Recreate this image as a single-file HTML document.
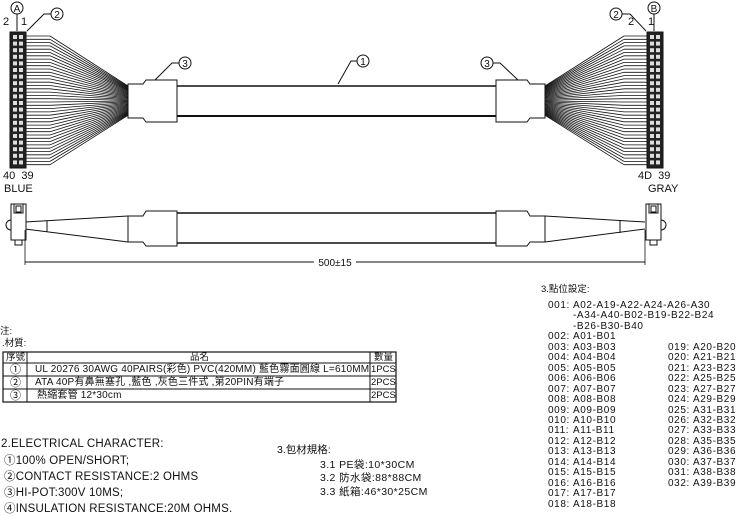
<!DOCTYPE html>
<html><head><meta charset="utf-8"><style>
body{margin:0;background:#fff;width:747px;height:512px;overflow:hidden;position:relative;font-family:"Liberation Sans","Noto Sans CJK TC",sans-serif;color:#111}
.t{position:absolute;white-space:nowrap;font-size:11px;line-height:1}
.s{font-size:9.5px}
.e{letter-spacing:0.2px;font-size:11.5px}
.r{font-size:10px;letter-spacing:0.2px}
</style></head><body>
<svg width="747" height="512" style="position:absolute;left:0;top:0" id="sv">
<g stroke="#111" fill="none" stroke-width="1">
<line x1="177" y1="86" x2="496" y2="86" stroke-width="1.5"/>
<line x1="177" y1="116" x2="496" y2="116" stroke-width="2"/>
<path d="M128 84 H143 L146 80 H177 V122 H146 L143 118 H128 Z" fill="#fff"/>
<path d="M545 84 H530 L527 80 H496 V122 H527 L530 118 H545 Z" fill="#fff"/>
<g id="fans" stroke-width="0.8"></g>
<rect x="10" y="32" width="16" height="136" fill="#222"/>
<rect x="647" y="32" width="16" height="136" fill="#222"/>
<g id="pins" fill="#ddd" stroke="none"></g>
<circle cx="17" cy="8" r="6"/><text x="17" y="12" font-size="10" text-anchor="middle" fill="#111" stroke="none">A</text>
<line x1="17" y1="14" x2="17" y2="31"/>
<circle cx="57" cy="14" r="6"/><text x="57" y="18" font-size="10" text-anchor="middle" fill="#111" stroke="none">2</text>
<path d="M51 14 H44 L27 31"/>
<circle cx="185" cy="63" r="6"/><text x="185" y="67" font-size="10" text-anchor="middle" fill="#111" stroke="none">3</text>
<path d="M179 63 H172 L155 80"/>
<circle cx="363" cy="61" r="6"/><text x="363" y="65" font-size="10" text-anchor="middle" fill="#111" stroke="none">1</text>
<path d="M357 61 H351 L338 84"/>
<circle cx="487" cy="63" r="6"/><text x="487" y="67" font-size="10" text-anchor="middle" fill="#111" stroke="none">3</text>
<path d="M493 63 H500 L518 80"/>
<circle cx="654" cy="8" r="6"/><text x="654" y="12" font-size="10" text-anchor="middle" fill="#111" stroke="none">B</text>
<line x1="654" y1="14" x2="654" y2="31"/>
<circle cx="616" cy="14" r="6"/><text x="616" y="18" font-size="10" text-anchor="middle" fill="#111" stroke="none">2</text>
<path d="M622 14 H630 L646 31"/>
<line x1="177" y1="213" x2="496" y2="213" stroke-width="1.5"/>
<line x1="177" y1="243" x2="496" y2="243" stroke-width="1.5"/>
<path d="M128 216 H143 L146 211 H177 V246 H146 L143 242 H128 Z" fill="#fff"/>
<path d="M545 216 H530 L527 211 H496 V246 H527 L530 242 H545 Z" fill="#fff"/>
<line x1="25" y1="222" x2="128" y2="216"/><line x1="25" y1="229" x2="128" y2="242"/>
<line x1="47" y1="221" x2="47" y2="232"/>
<line x1="645" y1="222" x2="545" y2="216"/><line x1="645" y1="229" x2="545" y2="242"/>
<line x1="620" y1="220" x2="620" y2="233"/>
<rect x="11" y="204" width="15" height="36" fill="#fff"/>
<rect x="14" y="204" width="9" height="9" fill="#fff"/><rect x="16" y="206" width="5" height="6"/>
<path d="M11 220 A5 5 0 0 0 11 230"/><rect x="15" y="240" width="7" height="5"/>
<rect x="646" y="204" width="15" height="36" fill="#fff"/>
<rect x="649" y="204" width="9" height="9" fill="#fff"/><rect x="651" y="206" width="5" height="6"/>
<path d="M661 220 A5 5 0 0 1 661 230"/><rect x="650" y="240" width="7" height="5"/>
<line x1="25" y1="230" x2="25" y2="265" stroke-width="0.8"/>
<line x1="645" y1="230" x2="645" y2="265" stroke-width="0.8"/>
<line x1="25" y1="262" x2="314" y2="262"/><line x1="356" y1="262" x2="645" y2="262"/>
<text x="335" y="266" font-size="10" text-anchor="middle" fill="#111" stroke="none">500±15</text>
<rect x="3" y="352" width="393" height="50" stroke-width="1.2"/>
<line x1="3" y1="363" x2="396" y2="363"/><line x1="3" y1="376" x2="396" y2="376"/><line x1="3" y1="389" x2="396" y2="389"/>
<line x1="27" y1="352" x2="27" y2="402"/><line x1="370" y1="352" x2="370" y2="402"/>
</g>
</svg>
<div class="t" style="left:3px;top:17px">2</div><div class="t" style="left:21px;top:17px">1</div>
<div class="t" style="left:3px;top:171px">40&nbsp;&nbsp;39</div><div class="t" style="left:4px;top:184px">BLUE</div>
<div class="t" style="left:648px;top:17px">1</div><div class="t" style="left:628px;top:17px">2</div>
<div class="t" style="left:638px;top:171px">4D&nbsp;&nbsp;39</div><div class="t" style="left:648px;top:184px">GRAY</div>

<div class="t s" style="left:0;top:327px">注:</div>
<div class="t s" style="left:2px;top:339px">.材質:</div>
<div class="t s" style="left:6px;top:353px">序號</div>
<div class="t s" style="left:190px;top:353px">品名</div>
<div class="t s" style="left:374px;top:353px">數量</div>
<div class="t" style="left:10px;top:365px">①</div><div class="t" style="left:10px;top:378px">②</div><div class="t" style="left:10px;top:391px">③</div>
<div class="t r" style="left:35px;top:365px">UL 20276 30AWG 40PAIRS(彩色) PVC(420MM) 藍色霧面圓線 L=610MM</div>
<div class="t r" style="left:35px;top:378px">ATA 40P有鼻無塞孔 ,藍色 ,灰色三件式 ,第20PIN有端子</div>
<div class="t r" style="left:37px;top:391px">熱縮套管 12*30cm</div>
<div class="t s" style="left:371px;top:365px">1PCS</div><div class="t s" style="left:371px;top:378px">2PCS</div><div class="t s" style="left:371px;top:391px">2PCS</div>

<div class="t e" style="left:1px;top:439px">2.ELECTRICAL CHARACTER:</div>
<div class="t e" style="left:4px;top:456px">①100% OPEN/SHORT;</div>
<div class="t e" style="left:4px;top:472px">②CONTACT RESISTANCE:2 OHMS</div>
<div class="t e" style="left:4px;top:488px">③HI-POT:300V 10MS;</div>
<div class="t e" style="left:4px;top:504px">④INSULATION RESISTANCE:20M OHMS.</div>

<div class="t" style="left:277px;top:445px;font-size:10.5px">3.包材規格:</div>
<div class="t" style="left:320px;top:460px;font-size:10.5px;letter-spacing:0.4px">3.1 PE袋:10*30CM</div>
<div class="t" style="left:320px;top:473px;font-size:10.5px;letter-spacing:0.4px">3.2 防水袋:88*88CM</div>
<div class="t" style="left:320px;top:487px;font-size:10.5px;letter-spacing:0.4px">3.3 紙箱:46*30*25CM</div>

<div class="t s" style="left:541px;top:285px">3.點位設定:</div>
<div id="lst"></div>
<script>
var NS="http://www.w3.org/2000/svg",f=document.getElementById("fans"),p=document.getElementById("pins");
function L(a,b,c,d){var l=document.createElementNS(NS,"line");l.setAttribute("x1",a);l.setAttribute("y1",b);l.setAttribute("x2",c);l.setAttribute("y2",d);f.appendChild(l);}
for(var i=0;i<40;i++){var y=36+i*3.3,ty=86+i*0.75;
L(26,y,50,y);L(50,y,128,ty);L(647,y,624,y);L(624,y,545,ty);}
for(var i=0;i<20;i++){for(var k=0;k<2;k++){[12,649].forEach(function(x){var r=document.createElementNS(NS,"rect");r.setAttribute("x",x+k*6+1);r.setAttribute("y",35+i*6.6);r.setAttribute("width",4);r.setAttribute("height",4);p.appendChild(r);});}}
var A=["001:|A02-A19-A22-A24-A26-A30","|-A34-A40-B02-B19-B22-B24","|-B26-B30-B40","002:|A01-B01"];
var B=["019:|A20-B20","020:|A21-B21","021:|A23-B23","022:|A25-B25","023:|A27-B27","024:|A29-B29","025:|A31-B31","026:|A32-B32","027:|A33-B33","028:|A35-B35","029:|A36-B36","030:|A37-B37","031:|A38-B38","032:|A39-B39"];
for(var n=3;n<=18;n++){var s=("00"+n).slice(-3);A.push(s+":|A"+s.slice(1)+"-B"+s.slice(1));}
var st="font-size:10px;letter-spacing:0.6px;";
var h="";A.forEach(function(t,i){var q=t.split("|"),y=301+i*10.45;h+='<div class="t" style="'+st+'left:548px;top:'+y+'px">'+q[0]+'</div><div class="t" style="'+st+'left:573px;top:'+y+'px">'+q[1]+'</div>';});
B.forEach(function(t,i){var q=t.split("|"),y=301+(i+4)*10.45;h+='<div class="t" style="'+st+'left:668px;top:'+y+'px">'+q[0]+'</div><div class="t" style="'+st+'left:693px;top:'+y+'px">'+q[1]+'</div>';});
document.getElementById("lst").innerHTML=h;
</script>
</body></html>
